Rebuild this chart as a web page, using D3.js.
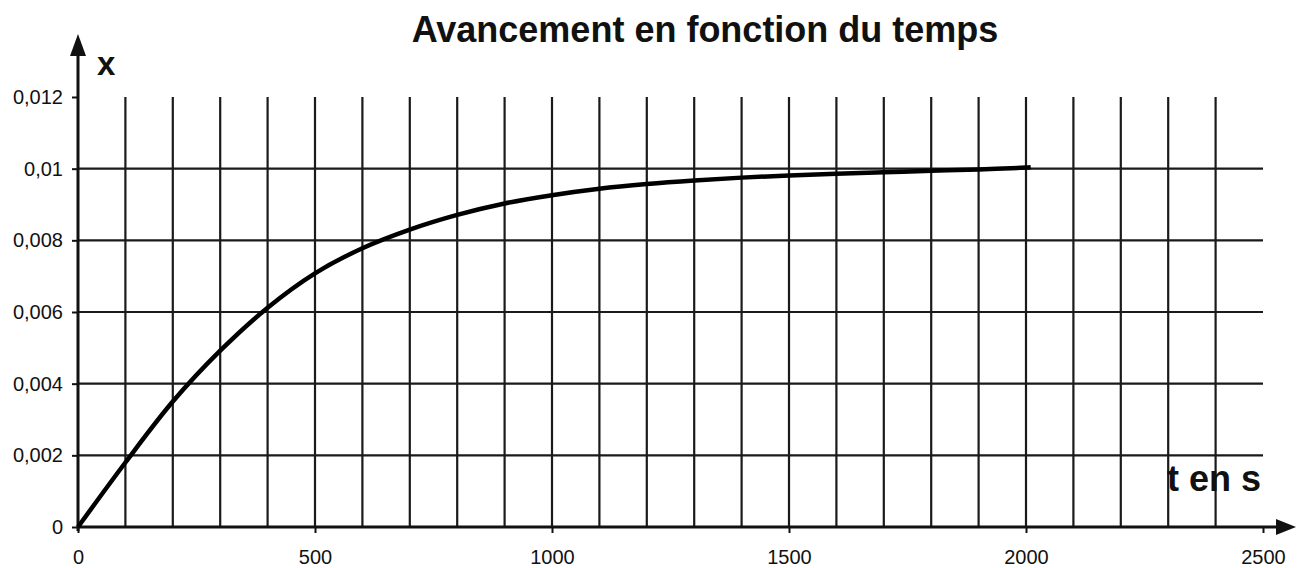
<!DOCTYPE html>
<html lang="fr">
<head>
<meta charset="UTF-8">
<title>Avancement en fonction du temps</title>
<script src="https://cdn.jsdelivr.net/npm/d3@7"></script>
<style>
  body { margin: 0; background: #fff; }
  text { font-family: "Liberation Sans", Arial, sans-serif; fill: #111; }
</style>
</head>
<body>
<script>
// donnees
const temps = [0, 100, 200, 300, 400, 500, 600, 700, 800, 900, 1000, 1100, 1200, 1300, 1400, 1500, 1600, 1700, 1800, 1900, 2000, 2010];
const avancement = [0, 0.0018, 0.0035, 0.00492, 0.00612, 0.00708, 0.00778, 0.0083, 0.00871, 0.00903, 0.00926, 0.00944, 0.00957, 0.00967, 0.00975, 0.00981, 0.00986, 0.0099, 0.00994, 0.00998, 0.01003, 0.01004];
const xTicks = [0, 500, 1000, 1500, 2000, 2500];
const yTicks = [0, 0.002, 0.004, 0.006, 0.008, 0.01, 0.012];
const yTickLabels = ['0', '0,002', '0,004', '0,006', '0,008', '0,01', '0,012'];
const xGrid = d3.range(100, 2500, 100);
const yGrid = [0.002, 0.004, 0.006, 0.008, 0.01];

const W = 1298, H = 568;
const svg = d3.select('body').append('svg')
  .attr('width', W).attr('height', H);

const x = d3.scaleLinear().domain([0, 2500]).range([78, 1263]);
const y = d3.scaleLinear().domain([0, 0.012]).range([527, 97]);

// grille
const grid = svg.append('g').attr('stroke', '#1a1a1a').attr('stroke-width', 2.2);
grid.selectAll('line.v').data(xGrid).join('line')
  .attr('class', 'v')
  .attr('x1', d => x(d)).attr('x2', d => x(d))
  .attr('y1', y(0.012)).attr('y2', y(0));
grid.selectAll('line.h').data(yGrid).join('line')
  .attr('class', 'h')
  .attr('x1', x(0)).attr('x2', x(2500))
  .attr('y1', d => y(d)).attr('y2', d => y(d));

// axes
const xAxis = d3.axisBottom(x).tickValues(xTicks).tickSize(6).tickFormat(d3.format('d'));
const gx = svg.append('g').attr('transform', `translate(0,${y(0)})`).call(xAxis);
gx.select('.domain').remove();
gx.selectAll('line').attr('stroke', '#111').attr('stroke-width', 2);
gx.selectAll('text').attr('font-size', 20).attr('dy', null).attr('y', 37).attr('fill', '#111');

const yAxis = d3.axisLeft(y).tickValues(yTicks).tickSize(6).tickFormat((d, i) => yTickLabels[i]);
const gy = svg.append('g').attr('transform', `translate(${x(0)},0)`).call(yAxis);
gy.select('.domain').remove();
gy.selectAll('line').attr('stroke', '#111').attr('stroke-width', 2);
gy.selectAll('text').attr('font-size', 20).attr('x', -15).attr('fill', '#111');

// lignes des axes avec fleches
svg.append('line')
  .attr('x1', x(0)).attr('x2', 1280)
  .attr('y1', y(0)).attr('y2', y(0))
  .attr('stroke', '#111').attr('stroke-width', 3);
svg.append('path')
  .attr('d', `M1296,${y(0)} L1276,${y(0) - 8} L1276,${y(0) + 8} Z`)
  .attr('fill', '#111');
svg.append('line')
  .attr('x1', x(0)).attr('x2', x(0))
  .attr('y1', y(0) + 4).attr('y2', 52)
  .attr('stroke', '#111').attr('stroke-width', 3);
svg.append('path')
  .attr('d', `M${x(0)},34 L${x(0) - 8},56 L${x(0) + 8},56 Z`)
  .attr('fill', '#111');

// courbe
const line = d3.line()
  .x((d, i) => x(temps[i]))
  .y(d => y(d))
  .curve(d3.curveCatmullRom);
svg.append('path')
  .datum(avancement)
  .attr('d', line)
  .attr('fill', 'none')
  .attr('stroke', '#000')
  .attr('stroke-width', 4.5)
  .attr('stroke-linejoin', 'round');

// textes
svg.append('text')
  .attr('x', 705).attr('y', 42)
  .attr('text-anchor', 'middle')
  .attr('font-size', 36).attr('font-weight', 'bold')
  .text('Avancement en fonction du temps');
svg.append('text')
  .attr('x', 97).attr('y', 75)
  .attr('font-size', 33).attr('font-weight', 'bold')
  .text('x');
svg.append('text')
  .attr('x', 1167).attr('y', 491)
  .attr('font-size', 36).attr('font-weight', 'bold')
  .text('t en s');
</script>
</body>
</html>
